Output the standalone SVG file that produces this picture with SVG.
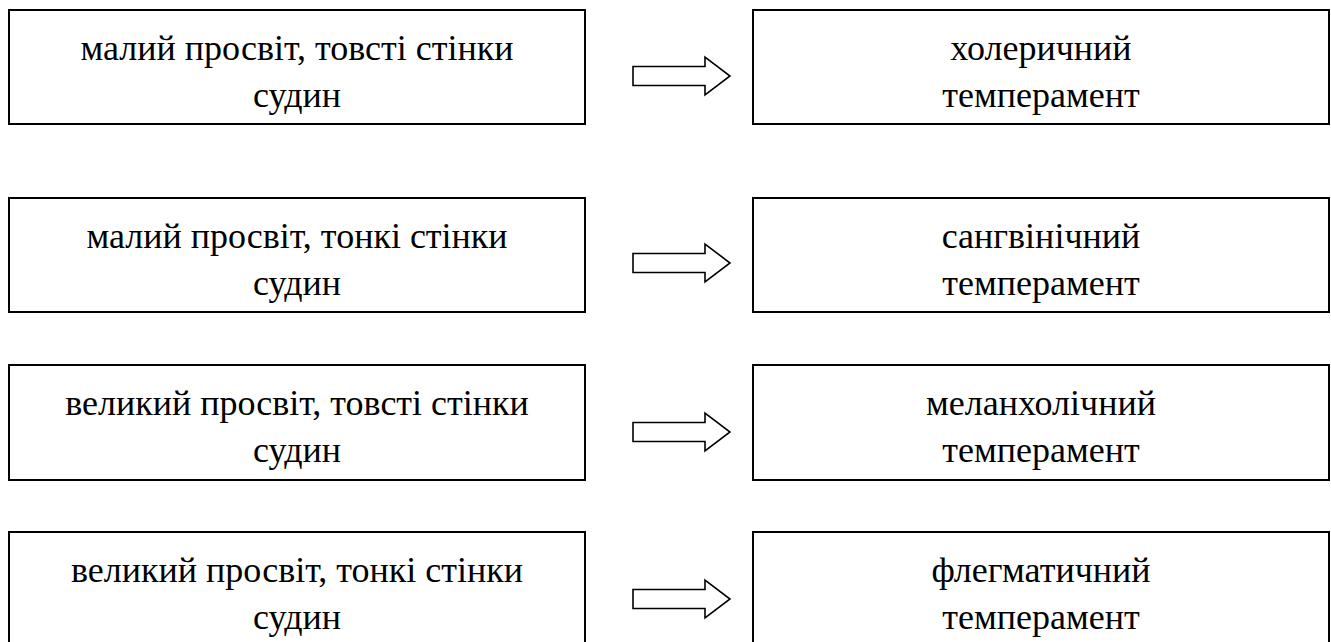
<svg xmlns="http://www.w3.org/2000/svg" width="1331" height="642" viewBox="0 0 1331 642">
<style>
.box{fill:#fff;stroke:#000;stroke-width:2}
.t{font-family:"Liberation Serif","Times New Roman",serif;font-size:36px;fill:#000;text-anchor:middle}
.arr{fill:#fff;stroke:#000;stroke-width:1.6;stroke-linejoin:miter}
</style>
<defs>
<path id="ar" d="M633,-9.5 H705 V-19 L730,0 L705,19 V9.5 H633 Z"/>
</defs>
<rect width="1331" height="642" fill="#fff"/>
<g id="n1"><rect class="box" x="9" y="10" width="576" height="114"/><text class="t" x="297" y="60">малий просвіт, товсті стінки</text><text class="t" x="297" y="107">судин</text></g>
<g id="n2"><rect class="box" x="753" y="10" width="576" height="114"/><text class="t" x="1041" y="60">холеричний</text><text class="t" x="1041" y="107">темперамент</text></g>
<g id="n3"><rect class="box" x="9" y="198" width="576" height="114"/><text class="t" x="297" y="248">малий просвіт, тонкі стінки</text><text class="t" x="297" y="295">судин</text></g>
<g id="n4"><rect class="box" x="753" y="198" width="576" height="114"/><text class="t" x="1041" y="248">сангвінічний</text><text class="t" x="1041" y="295">темперамент</text></g>
<g id="n5"><rect class="box" x="9" y="365" width="576" height="115"/><text class="t" x="297" y="415">великий просвіт, товсті стінки</text><text class="t" x="297" y="462">судин</text></g>
<g id="n6"><rect class="box" x="753" y="365" width="576" height="115"/><text class="t" x="1041" y="415">меланхолічний</text><text class="t" x="1041" y="462">темперамент</text></g>
<g id="n7"><rect class="box" x="9" y="532" width="576" height="114"/><text class="t" x="297" y="582">великий просвіт, тонкі стінки</text><text class="t" x="297" y="629">судин</text></g>
<g id="n8"><rect class="box" x="753" y="532" width="576" height="114"/><text class="t" x="1041" y="582">флегматичний</text><text class="t" x="1041" y="629">темперамент</text></g>
<g id="connectors">
<use href="#ar" class="arr" transform="translate(0,76)"/>
<use href="#ar" class="arr" transform="translate(0,263)"/>
<use href="#ar" class="arr" transform="translate(0,432)"/>
<use href="#ar" class="arr" transform="translate(0,599)"/>
</g>
</svg>
